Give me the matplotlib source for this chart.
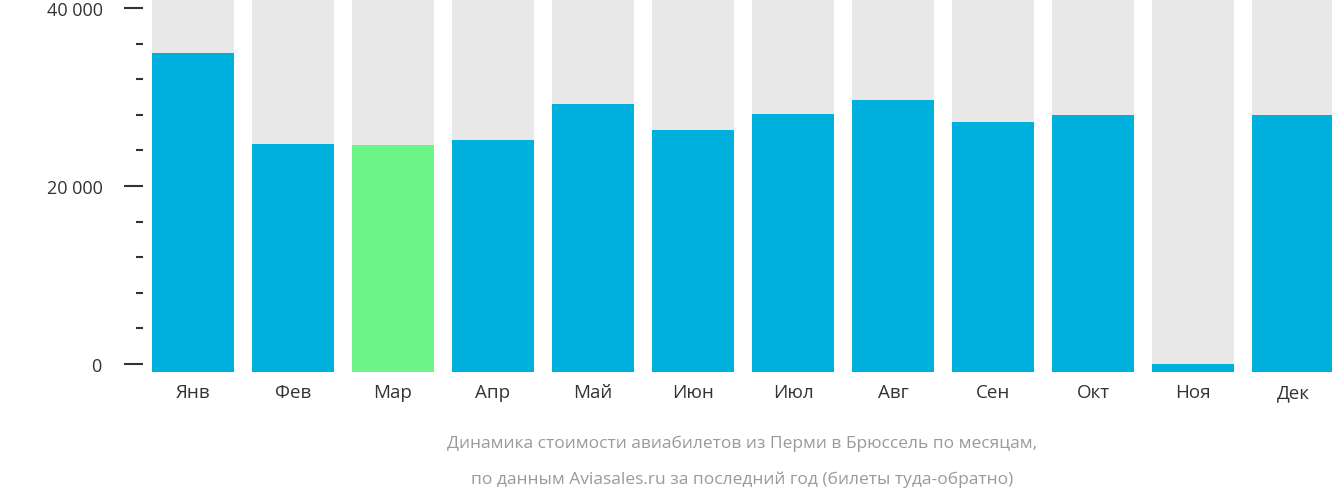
import numpy as np
import matplotlib.pyplot as plt
from matplotlib.ticker import MultipleLocator, FuncFormatter

months = ['Янв', 'Фев', 'Мар', 'Апр', 'Май', 'Июн', 'Июл', 'Авг', 'Сен', 'Окт', 'Ноя', 'Дек']
prices = [34950, 24720, 24610, 25170, 29210, 26290, 28090, 29660, 27190, 27980, np.nan, 27980]
cheapest = 2

plt.rcParams['font.family'] = 'Open Sans'
fig = plt.figure(figsize=(13.32, 5.02), dpi=100)
ax = fig.add_axes([143/1332, 129/502, 1191/1332, 373/502])

lo, hi = -900, 41000
x = np.arange(len(months))
ax.bar(x, hi - lo, bottom=lo, width=0.82, color='#e8e8e8')
colors = ['#6ef589' if i == cheapest else '#00b0dc' for i in range(len(months))]
vals = np.nan_to_num(prices)
ax.bar(x, vals - lo, bottom=lo, width=0.82, color=colors)

ax.set_xlim(-0.5, 11.41)
ax.set_ylim(lo, hi)
ax.yaxis.set_major_locator(MultipleLocator(20000))
ax.yaxis.set_minor_locator(MultipleLocator(4000))
ax.yaxis.set_major_formatter(FuncFormatter(lambda v, p: f'{int(v):,}'.replace(',', '\u00a0') + ' ₽'))
ax.tick_params(axis='y', which='major', length=14, width=1.5, color='#333333', labelsize=13, labelcolor='#333333', pad=4)
ax.tick_params(axis='y', which='minor', length=5, width=1.5, color='#333333')
ax.set_xticks(x)
ax.set_xticklabels(months)
ax.tick_params(axis='x', length=0, labelsize=13.5, labelcolor='#333333', pad=8)
for s in ax.spines.values():
    s.set_visible(False)

fig.text(0.555, 502-444, '', )
fig.text(742/1332, 1 - 444/502, 'Динамика стоимости авиабилетов из Перми в Брюссель по месяцам,',
         ha='center', va='center', fontsize=12.5, color='#9a9a9a')
fig.text(742/1332, 1 - 480/502, 'по данным Aviasales.ru за последний год (билеты туда-обратно)',
         ha='center', va='center', fontsize=12.5, color='#9a9a9a')

fig.savefig('out.png', dpi=100)
